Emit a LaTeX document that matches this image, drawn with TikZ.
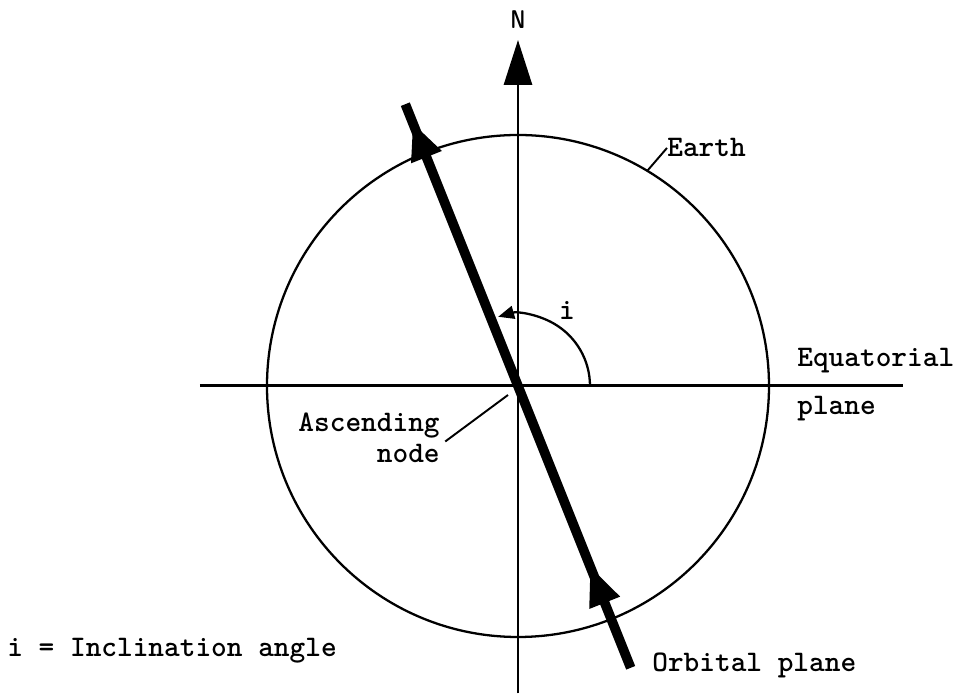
\documentclass[tikz,border=0pt]{standalone}
\usepackage{fontspec}
\usetikzlibrary{arrows.meta,decorations.markings}

\begin{document}
\begin{tikzpicture}[scale=1.0,
  lbl/.style={font=\ttfamily\bfseries\fontsize{17pt}{18pt}\selectfont,inner sep=0pt},
  axisline/.style={line width=1.7pt},
  leader/.style={line width=1.1pt},
  bigtip/.style={-{Triangle[length=0.9cm,width=0.56cm]}}]
\useasboundingbox (-10.36,-6.2) rectangle (8.82,7.72);
\coordinate (O) at (0,0);
\draw[line width=1.3pt] (O) circle (5.02);
\coordinate (W) at (-6.36,0);
\coordinate (E) at (7.7,0);
\coordinate (S) at (0,-6.15);
\coordinate (N) at (0,6.92);
\draw[axisline] (W) -- (E);
\draw[axisline,bigtip] (S) -- (N);
\node[font=\sffamily\bfseries\fontsize{14.6pt}{16pt}\selectfont,xscale=0.72] (nlbl) at (0,7.32) {N};
% orbital plane
\coordinate (top) at (111.8:6.07);
\coordinate (bot) at (-68.2:6.07);
\draw[line width=5.5pt,postaction={decorate},decoration={markings,
  mark=at position 2.2cm with {\arrow{Triangle[length=0.8cm,width=0.6cm]}},
  mark=at position 11.75cm with {\arrow{Triangle[length=0.75cm,width=0.6cm]}}}]
  (bot) -- (top);
% inclination angle
\draw[line width=1.3pt,-{Triangle[length=0.32cm,width=0.26cm]}] (1.44,0) arc[start angle=0,end angle=106,radius=1.44];
\node[lbl] (ilbl) at (0.98,1.52) {i};
% labels
\coordinate (ep) at (59:5.02);
\node[lbl,anchor=base west] (earth) at (2.98,4.58) {Earth};
\draw[leader] (ep) -- (earth.west);
\node[lbl,anchor=base west] (eq) at (5.58,0.38) {Equatorial};
\node[lbl,anchor=base west] (pl) at (5.58,-0.58) {plane};
\coordinate (an) at (-0.2,-0.18);
\node[lbl,align=right,anchor=base east] (asc) at (-1.56,-1.54) {Ascending\\node};
\draw[leader] ([xshift=3pt,yshift=-2pt]asc.east) -- (an);
\node[lbl,anchor=base west] (orb) at (2.68,-5.72) {Orbital plane};
\node[lbl,anchor=base west] (incl) at (-10.22,-5.42) {i = Inclination angle};
\end{tikzpicture}
\end{document}
